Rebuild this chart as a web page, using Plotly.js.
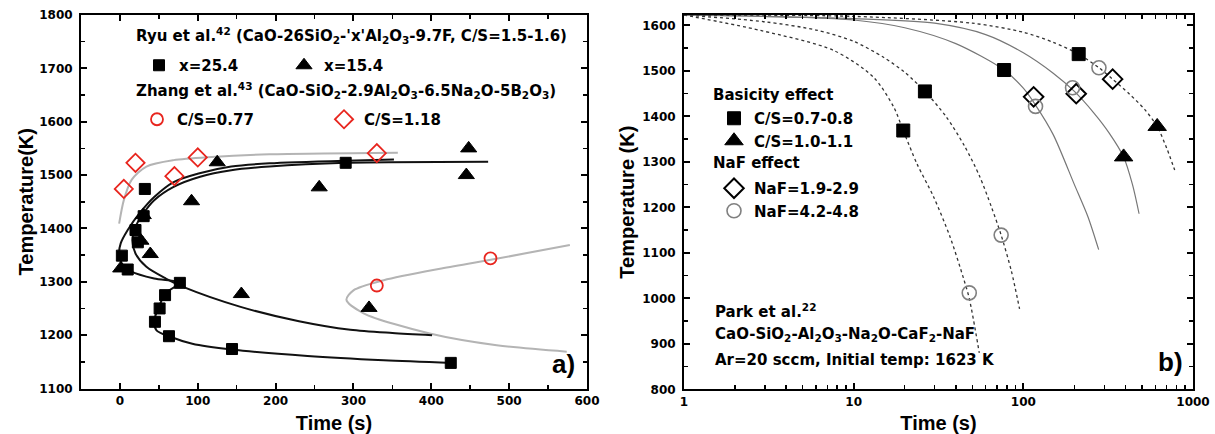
<!DOCTYPE html>
<html><head><meta charset="utf-8">
<script src="https://cdn.plot.ly/plotly-3.0.1.min.js"></script>
<style>html,body{margin:0;padding:0;background:#fff}</style>
</head><body>
<div id="chart" style="width:1215px;height:434px"></div>
<script>
// ---------- Panel a) : Ryu et al. / Zhang et al. ----------
const ryuSqTime = [2.5, 10, 20, 23, 30.5, 32, 77, 58, 51, 45, 63, 144, 290, 425];
const ryuSqTemp = [1349, 1323, 1397, 1374, 1423, 1474, 1298, 1275, 1250, 1225, 1198, 1174, 1523, 1148];
const ryuTriTime = [1, 30, 27, 39, 92, 125, 256, 156, 320, 445, 448];
const ryuTriTemp = [1325, 1425, 1377, 1352, 1451, 1524, 1477, 1277, 1251, 1500, 1550];
const zhangCircTime = [330, 476];
const zhangCircTemp = [1293, 1344];
const zhangDiaTime = [5, 20, 70, 100, 330];
const zhangDiaTemp = [1474, 1523, 1498, 1533, 1541];

// fitted curves read off panel a)
const fitSqTime = [352, 290, 192, 143, 101, 69, 44, 25, 10, 1, -1, 2.5, 15, 44, 77, 58, 50, 44, 47, 63, 93, 144, 241, 339, 427];
const fitSqTemp = [1529, 1527, 1522, 1516, 1503, 1487, 1459, 1428, 1397, 1372, 1353, 1334, 1319, 1306, 1298, 1278, 1252, 1228, 1209, 1198, 1184, 1173, 1161, 1153, 1148];
const fitTriTime = [473, 290, 192, 143, 103, 69, 44, 30, 20, 16, 20, 34, 59, 82, 155, 230, 296, 350, 401];
const fitTriTemp = [1525, 1523, 1516, 1509, 1497, 1478, 1453, 1428, 1403, 1378, 1353, 1328, 1306, 1290, 1253, 1226, 1210, 1204, 1200];
const fitDiaTime = [-1, 5, 15, 34, 69, 118, 192, 357];
const fitDiaTemp = [1409, 1453, 1491, 1516, 1528, 1534, 1539, 1542];
const fitCircTime = [578, 487, 413, 339, 300, 291, 313, 398, 484, 574];
const fitCircTemp = [1369, 1344, 1325, 1303, 1284, 1266, 1241, 1203, 1181, 1169];

// ---------- Panel b) : Park et al. ----------
const csLowTime = [19.6, 26.3, 77, 212];
const csLowTemp = [1369, 1455, 1502, 1537];
const csHighTime = [390, 615];
const csHighTemp = [1311, 1378];
const naf1Time = [115, 205, 336];
const naf1Temp = [1443, 1450, 1482];
const naf2Time = [48, 74, 118, 195, 279];
const naf2Temp = [1012, 1139, 1422, 1463, 1507];

const curveATime = [1, 2.83, 7.63, 13.1, 17.2, 19.6, 23.6, 29.6, 37, 44.4, 48, 55];
const curveATemp = [1623, 1589, 1545, 1486, 1421, 1369, 1296, 1223, 1135, 1044, 1000, 880];
const curveBTime = [1, 3, 6, 10, 15, 20, 26.3, 35, 45, 55, 65, 74, 85, 95];
const curveBTemp = [1623, 1608, 1590, 1565, 1530, 1497, 1455, 1400, 1335, 1270, 1200, 1139, 1060, 977];
const curveCTime = [1, 5, 10, 20, 40, 77, 100, 118, 150, 200, 240, 278];
const curveCTemp = [1623, 1618, 1612, 1595, 1560, 1502, 1462, 1425, 1360, 1250, 1180, 1107];
const curveDTime = [1, 10, 30, 60, 100, 150, 200, 260, 320, 390, 440, 481];
const curveDTemp = [1623, 1615, 1605, 1580, 1540, 1495, 1455, 1408, 1364, 1311, 1250, 1186];
const curveETime = [1, 10, 50, 100, 150, 212, 279, 336, 420, 520, 615, 700, 780];
const curveETemp = [1623, 1620, 1605, 1585, 1563, 1537, 1507, 1482, 1450, 1415, 1378, 1330, 1282];

const xTicksA = [0, 100, 200, 300, 400, 500, 600];
const yTicksA = [1100, 1200, 1300, 1400, 1500, 1600, 1700, 1800];
const xTicksB = [1, 10, 100, 1000];
const xTickTextB = ['1', '10', '100', '1000'];
const xMinorB = [2,3,4,5,6,7,8,9,20,30,40,50,60,70,80,90,200,300,400,500,600,700,800,900];
const yTicksB = [800, 900, 1000, 1100, 1200, 1300, 1400, 1500, 1600];

const W = 1215, H = 434;
const px = v => v / W;
const py = v => 1 - v / H;
const FONT = 'DejaVu Sans, Arial, sans-serif';
const TFONT = 'Liberation Sans, Arial, sans-serif';
const TXT = {family: FONT, size: 15, color: '#000', weight: 'bold'};

function curve(x, y, xa, ya, color, width, dash) {
  return {x: x, y: y, xaxis: xa, yaxis: ya, mode: 'lines', showlegend: false, hoverinfo: 'skip',
    line: {color: color, width: width, dash: dash || 'solid', shape: 'spline', smoothing: 0.8}};
}
function pts(x, y, xa, ya, name, lg, symbol, size, color, lineColor, lw) {
  return {x: x, y: y, xaxis: xa, yaxis: ya, mode: 'markers', name: name, legend: lg,
    marker: {symbol: symbol, size: size, color: color, line: {color: lineColor, width: lw}}};
}

const traces = [
  curve(fitDiaTime, fitDiaTemp, 'x', 'y', '#b4b4b4', 2),
  curve(fitCircTime, fitCircTemp, 'x', 'y', '#b4b4b4', 2),
  curve(fitSqTime, fitSqTemp, 'x', 'y', '#111', 2),
  curve(fitTriTime, fitTriTemp, 'x', 'y', '#111', 2),
  pts(ryuSqTime, ryuSqTemp, 'x', 'y', 'x=25.4', 'legend', 'square', 11, '#000', '#000', 1),
  pts(ryuTriTime, ryuTriTemp, 'x', 'y', 'x=15.4', 'legend', 'triangle-up', 14, '#000', '#000', 1),
  pts(zhangCircTime, zhangCircTemp, 'x', 'y', 'C/S=0.77', 'legend2', 'circle-open', 12, '#e8251e', '#e8251e', 1.8),
  pts(zhangDiaTime, zhangDiaTemp, 'x', 'y', 'C/S=1.18', 'legend2', 'diamond-open', 14, '#e8251e', '#e8251e', 1.8),

  curve(curveATime, curveATemp, 'x2', 'y2', '#333', 1.3, 'dot'),
  curve(curveBTime, curveBTemp, 'x2', 'y2', '#333', 1.3, 'dot'),
  curve(curveCTime, curveCTemp, 'x2', 'y2', '#777', 1.2),
  curve(curveDTime, curveDTemp, 'x2', 'y2', '#777', 1.2),
  curve(curveETime, curveETemp, 'x2', 'y2', '#333', 1.3, 'dot'),
  pts(csLowTime, csLowTemp, 'x2', 'y2', 'C/S=0.7-0.8', 'legend3', 'square', 13, '#000', '#000', 1),
  pts(csHighTime, csHighTemp, 'x2', 'y2', 'C/S=1.0-1.1', 'legend3', 'triangle-up', 16, '#000', '#000', 1),
  pts(naf1Time, naf1Temp, 'x2', 'y2', 'NaF=1.9-2.9', 'legend4', 'diamond-open', 15, '#000', '#000', 2),
  pts(naf2Time, naf2Temp, 'x2', 'y2', 'NaF=4.2-4.8', 'legend4', 'circle-open', 14, '#808080', '#808080', 1.6)
];

const tickfont = {family: FONT, size: 12, color: '#000', weight: 'bold'};
const titlefont = {family: TFONT, size: 20, color: '#000', weight: 'bold'};
const axBase = {showgrid: false, zeroline: false, showline: true, linecolor: '#000', linewidth: 2,
  mirror: 'ticks', ticks: 'inside', ticklen: 6, tickwidth: 2, tickcolor: '#000', tickfont: tickfont};
const minorBase = {ticks: 'inside', ticklen: 4, tickwidth: 1.5, tickcolor: '#000'};

const legBase = {bgcolor: 'rgba(0,0,0,0)', borderwidth: 0, font: TXT,
  xanchor: 'left', yanchor: 'top', itemsizing: 'trace', tracegroupgap: 0, itemclick: false};

function note(text, x, y, extra) {
  return Object.assign({text: text, x: px(x), y: py(y), xref: 'paper', yref: 'paper', xanchor: 'left', yanchor: 'middle',
    showarrow: false, font: TXT}, extra || {});
}

const layout = {
  width: W, height: H, paper_bgcolor: '#fff', plot_bgcolor: '#fff',
  margin: {l: 0, r: 0, t: 0, b: 0}, showlegend: true,
  xaxis: Object.assign({}, axBase, {domain: [px(81), px(587)], range: [-50, 600], tickvals: xTicksA,
    minor: Object.assign({dtick: 50}, minorBase),
    title: {text: 'Time (s)', font: titlefont, standoff: 15}, anchor: 'y'}),
  yaxis: Object.assign({}, axBase, {domain: [py(388.5), py(15)], range: [1100, 1800], tickvals: yTicksA,
    minor: Object.assign({dtick: 50}, minorBase),
    title: {text: 'Temperature(K)', font: titlefont, standoff: 0}, anchor: 'x', ticklabelstandoff: 4}),
  xaxis2: Object.assign({}, axBase, {domain: [px(684), px(1193)], type: 'log', range: [0, 3],
    tickvals: xTicksB, ticktext: xTickTextB,
    minor: Object.assign({tickvals: xMinorB}, minorBase),
    title: {text: 'Time (s)', font: titlefont, standoff: 15}, anchor: 'y2'}),
  yaxis2: Object.assign({}, axBase, {domain: [py(389.3), py(15)], range: [800, 1623], tickvals: yTicksB,
    minor: Object.assign({dtick: 50}, minorBase),
    title: {text: 'Temperature (K)', font: titlefont, standoff: 2}, anchor: 'x2', ticklabelstandoff: 4}),

  legend: Object.assign({}, legBase, {x: px(139), y: py(49), orientation: 'h', entrywidth: 100, entrywidthmode: 'pixels'}),
  legend2: Object.assign({}, legBase, {x: px(137), y: py(103), orientation: 'h', entrywidth: 142, entrywidthmode: 'pixels'}),
  legend3: Object.assign({}, legBase, {x: px(714), y: py(102), orientation: 'v'}),
  legend4: Object.assign({}, legBase, {x: px(714), y: py(172), orientation: 'v'}),

  annotations: [
    note("Ryu et al.<sup>42</sup> (CaO-26SiO<sub>2</sub>-'x'Al<sub>2</sub>O<sub>3</sub>-9.7F, C/S=1.5-1.6)", 134, 35),
    note('Zhang et al.<sup>43</sup> (CaO-SiO<sub>2</sub>-2.9Al<sub>2</sub>O<sub>3</sub>-6.5Na<sub>2</sub>O-5B<sub>2</sub>O<sub>3</sub>)', 134, 90),
    note('Basicity effect', 711, 95),
    note('NaF effect', 711, 163),
    note('Park et al.<sup>22</sup>', 713, 311),
    note('CaO-SiO<sub>2</sub>-Al<sub>2</sub>O<sub>3</sub>-Na<sub>2</sub>O-CaF<sub>2</sub>-NaF', 713, 334),
    note('Ar=20 sccm, Initial temp: 1623 K', 713, 360),
    note('a)', 563, 364, {xanchor: 'center', font: {family: TFONT, size: 26, color: '#000', weight: 'bold'}}),
    note('b)', 1170, 362, {xanchor: 'center', font: {family: TFONT, size: 26, color: '#000', weight: 'bold'}})
  ]
};

Plotly.newPlot('chart', traces, layout, {staticPlot: true, displayModeBar: false});
</script>
</body></html>
